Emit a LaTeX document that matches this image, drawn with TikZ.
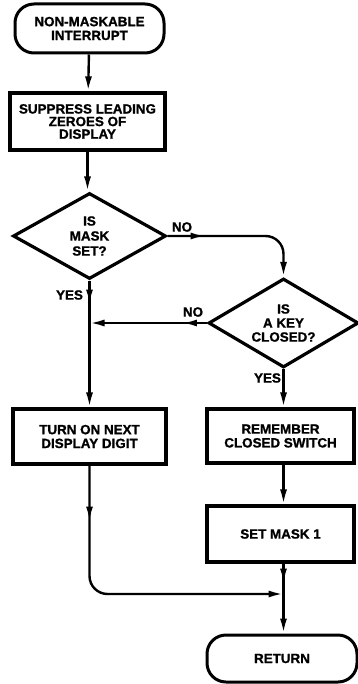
\documentclass[tikz,border=0pt]{standalone}
\usepackage{fontspec}
\setmainfont{Liberation Sans}[BoldFeatures={FakeBold=1.2}]
\usetikzlibrary{shapes.geometric,arrows.meta,decorations.markings}

\tikzset{
  txt/.style={font=\bfseries\fontsize{13.4}{#1}\selectfont, align=center, inner sep=0pt},
  txt/.default=13.8,
  term/.style={draw, line width=3pt, rounded corners=19pt, txt},
  proc/.style={draw, line width=3.2pt, rectangle, txt},
  dec/.style={draw, line width=3.2pt, diamond, aspect=1.75, txt=15},
  lbl/.style={txt},
  tip/.style={-{Latex[length=15pt,width=7pt]}},
  flow/.style={line width=2.4pt},
  midarrow/.style={postaction={decorate, decoration={markings,
      mark=at position #1 with {\arrow{Latex[length=15pt,width=7pt]}}}}}
}

\begin{document}
\begin{tikzpicture}[x=1pt, y=-1pt]
  \useasboundingbox (0,0) rectangle (358,684);

  % boxes of the flowchart
  \node[term, minimum width=149pt, minimum height=49pt] (start) at (89.5,28.5) {NON-MASKABLE\\INTERRUPT};
  \node[proc, minimum width=155pt, minimum height=57pt, txt=12.6] (supp) at (87.5,121.5) {SUPPRESS LEADING\\ZEROES OF\\DISPLAY};
  \node[dec, minimum width=153pt, minimum height=86pt] (mask) at (89.5,236) {IS\\MASK\\SET?};
  \node[dec, minimum width=150pt, minimum height=89pt, txt=14] (key) at (283.5,323) {IS\\A KEY\\CLOSED?};
  \node[proc, minimum width=153pt, minimum height=55pt] (turn) at (89.5,436.5) {TURN ON NEXT\\DISPLAY DIGIT};
  \node[proc, minimum width=147pt, minimum height=54pt] (rem) at (280.5,436) {REMEMBER\\CLOSED SWITCH};
  \node[proc, minimum width=147pt, minimum height=56pt] (set) at (280.5,534) {SET MASK 1};
  \node[term, minimum width=150pt, minimum height=47pt] (ret) at (282,658.5) {RETURN};

  % junction points
  \coordinate (j1) at (mask.south |- key.west);
  \coordinate (j2) at (key.south |- 0,594);

  % branch labels
  \node[lbl] (no1) at (182,227) {NO};
  \node[lbl] (yes1) at (69.5,295) {YES};
  \node[lbl] (no2) at (193,312) {NO};
  \node[lbl] (yes2) at (267.5,378) {YES};

  % connectors
  \draw[flow, tip] (start) -- (supp);
  \draw[flow, tip] (supp.south) -- (supp.south |- mask.north);
  \draw[flow, tip, midarrow=38pt, rounded corners=18pt] (mask.east) -| (key.north);
  \draw[flow, midarrow=24pt] (mask.south) -- (j1);
  \draw[flow, tip, midarrow=25pt] (key.west) -- (j1);
  \draw[flow, tip] (j1) -- (j1 |- turn.north);
  \draw[flow, tip] (key.south) -- (key.south |- rem.north);
  \draw[flow, tip] (key.south |- rem.south) -- (key.south |- set.north);
  \draw[flow, tip, midarrow=56pt, rounded corners=18pt] (turn.south) |- (j2);
  \draw[flow, midarrow=20pt] (key.south |- set.south) -- (j2);
  \draw[flow, tip] (j2) -- (j2 |- ret.north);
\end{tikzpicture}
\end{document}
